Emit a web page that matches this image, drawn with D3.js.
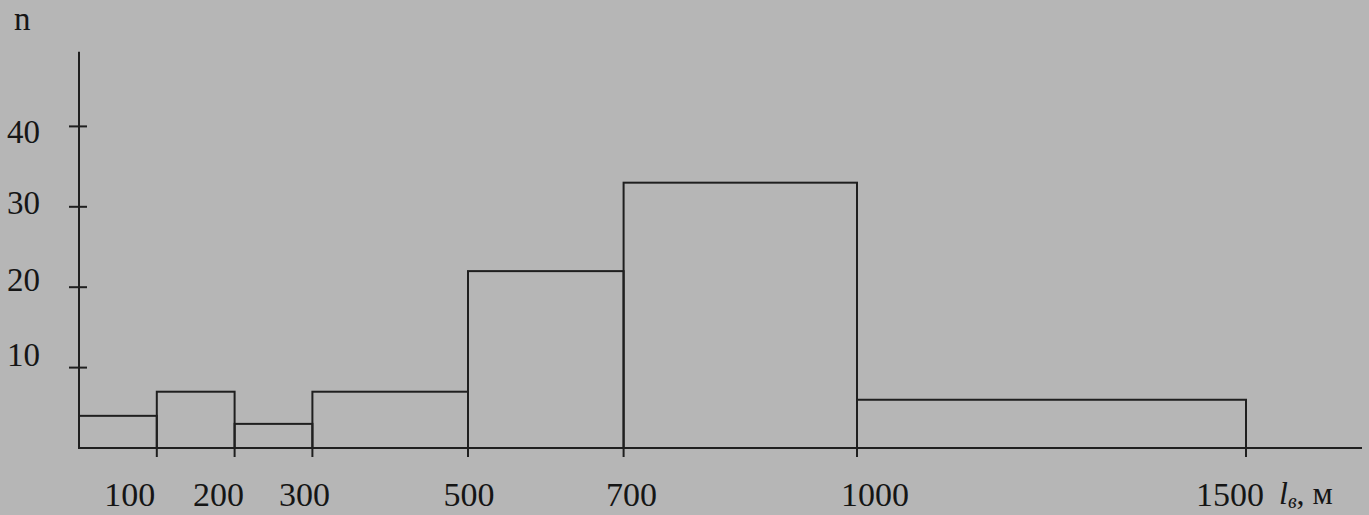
<!DOCTYPE html>
<html>
<head>
<meta charset="utf-8">
<script src="https://d3js.org/d3.v7.min.js"></script>
<style>
  html, body { margin: 0; padding: 0; background: #b6b6b6; }
  svg { display: block; }
</style>
</head>
<body>
<script>
// bin edges (l_в, m) and counts n per bin
const binEdges = [0, 100, 200, 300, 500, 700, 1000, 1500];
const counts = [4, 7, 3, 7, 22, 33, 6];
const yTicks = [10, 20, 30, 40];
const xTickLabels = ["100", "200", "300", "500", "700", "1000", "1500"];

const W = 1369, H = 515;
const ink = "#1f1f1f";

const svg = d3.select("body").append("svg")
  .attr("width", W).attr("height", H)
  .style("background", "#b6b6b6")
  .style("font-family", "'Liberation Serif', 'DejaVu Serif', serif");

const x = d3.scaleLinear().domain([0, 1500]).range([79, 1246]);
const y = d3.scaleLinear().domain([0, 50]).range([448, 46]);

// bins built from edges + counts
const bins = counts.map((c, i) => ({ x0: binEdges[i], x1: binEdges[i + 1], n: c }));

svg.append("g")
  .selectAll("rect")
  .data(bins)
  .join("rect")
  .attr("x", d => x(d.x0))
  .attr("y", d => y(d.n))
  .attr("width", d => x(d.x1) - x(d.x0))
  .attr("height", d => y(0) - y(d.n))
  .attr("fill", "none")
  .attr("stroke", ink)
  .attr("stroke-width", 2);

// axes lines
svg.append("line")
  .attr("x1", x(0)).attr("x2", x(0))
  .attr("y1", y(0)).attr("y2", y(49.3))
  .attr("stroke", ink).attr("stroke-width", 2);
svg.append("line")
  .attr("x1", x(0)).attr("x2", 1362)
  .attr("y1", y(0)).attr("y2", y(0))
  .attr("stroke", ink).attr("stroke-width", 2);

// y ticks + labels (scan is a bit uneven, labels sit off their ticks)
const yNudge = { 10: -13, 20: -8, 30: -4, 40: 5 };
const yt = svg.append("g").selectAll("g").data(yTicks).join("g")
  .attr("transform", d => `translate(0,${y(d)})`);
yt.append("line")
  .attr("x1", x(0) - 10).attr("x2", x(0) + 8)
  .attr("stroke", ink).attr("stroke-width", 2);
yt.append("text")
  .attr("x", 40).attr("y", d => yNudge[d]).attr("dy", "0.35em")
  .attr("text-anchor", "end")
  .attr("font-size", 33)
  .attr("fill", "#151515")
  .text(d => d);

// x ticks (bin edges) + labels
const labelNudge = { "100": -27, "200": -16, "300": -8, "500": 1, "700": 8, "1000": 18, "1500": -16 };
const xt = svg.append("g").selectAll("g").data(xTickLabels).join("g")
  .attr("transform", d => `translate(${x(+d)},0)`);
xt.append("line")
  .attr("y1", y(0)).attr("y2", y(0) + 9)
  .attr("stroke", ink).attr("stroke-width", 2);
xt.append("text")
  .attr("x", d => labelNudge[d])
  .attr("y", 506)
  .attr("text-anchor", "middle")
  .attr("font-size", 34)
  .attr("fill", "#151515")
  .text(d => d);

// axis titles
svg.append("text")
  .attr("x", 14).attr("y", 30)
  .attr("font-size", 33)
  .attr("fill", "#151515")
  .text("n");

const xt2 = svg.append("text")
  .attr("x", 1279).attr("y", 504)
  .attr("font-size", 32)
  .attr("fill", "#151515");
xt2.append("tspan").attr("font-style", "italic").text("l");
xt2.append("tspan").attr("font-style", "italic").attr("font-size", 20).attr("dy", 4).text("в");
xt2.append("tspan").attr("dy", -4).text(", м");
</script>
</body>
</html>
